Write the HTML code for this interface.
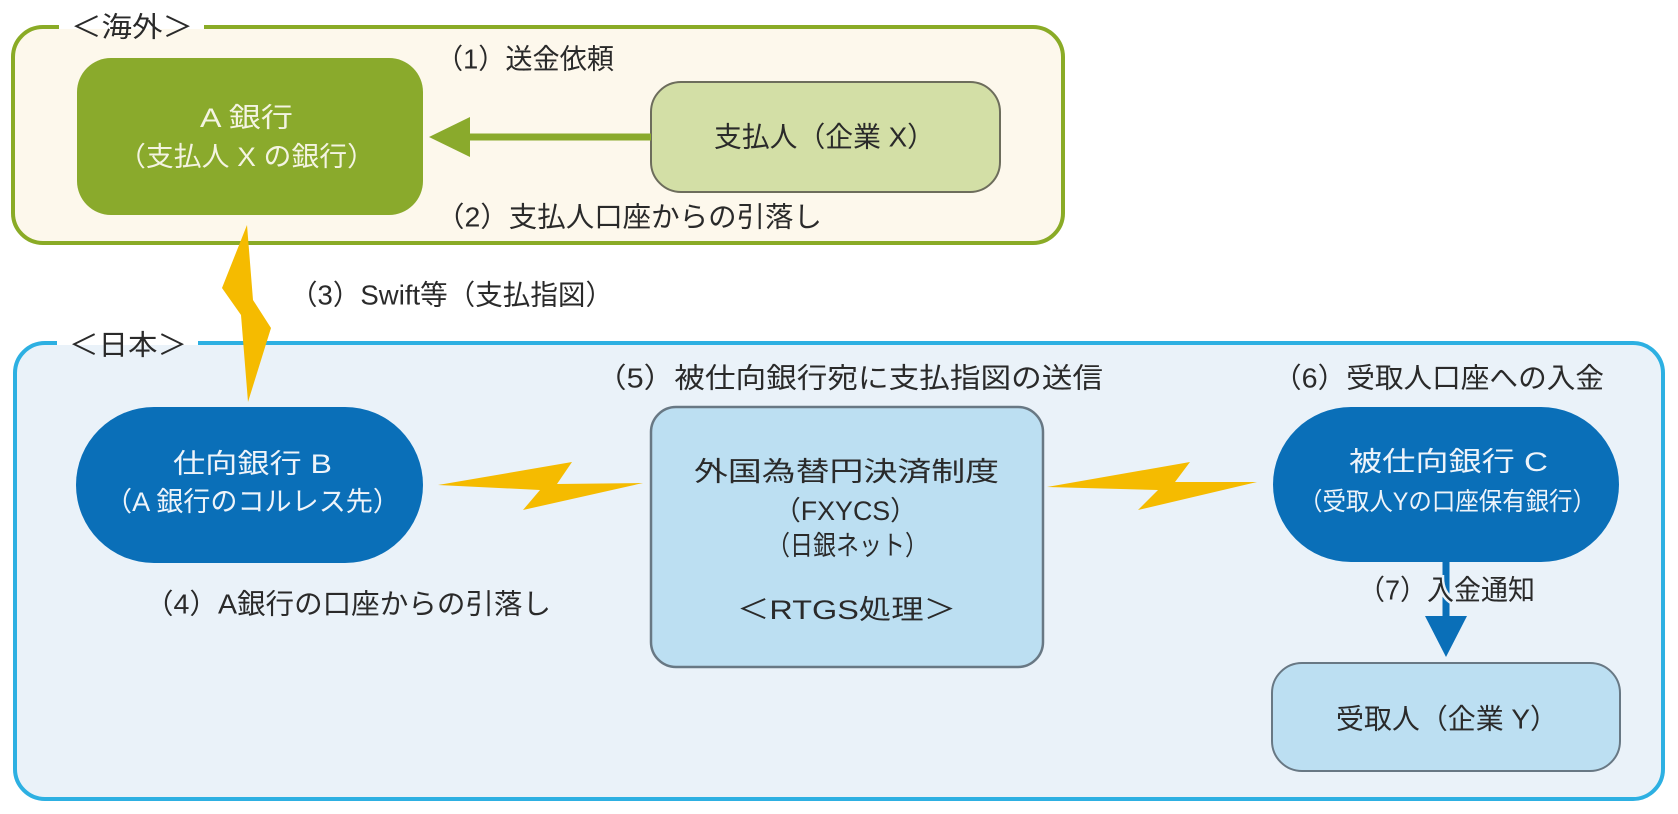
<!DOCTYPE html>
<html>
<head>
<meta charset="utf-8">
<style>
  html,body{margin:0;padding:0;background:#ffffff;}
  svg{display:block;}
  text{font-family:"Liberation Sans","Noto Sans CJK JP",sans-serif;}
</style>
</head>
<body>
<svg width="1678" height="814" viewBox="0 0 1678 814" xmlns="http://www.w3.org/2000/svg">
  <rect x="0" y="0" width="1678" height="814" fill="#ffffff"/>

  <!-- Overseas (green) container -->
  <rect x="13" y="27" width="1050" height="216" rx="30" ry="30" fill="#fdf8ec" stroke="#8aab26" stroke-width="4"/>
  <rect x="59" y="20" width="145" height="14" fill="#ffffff"/>
  <rect x="59" y="29" width="145" height="6" fill="#fdf8ec"/>
  <text x="71" y="27" font-size="28" fill="#2a2a2a" dominant-baseline="central" textLength="122" lengthAdjust="spacingAndGlyphs">＜海外＞</text>

  <!-- A bank -->
  <rect x="77" y="58" width="346" height="157" rx="34" ry="34" fill="#8aaa2c"/>
  <text x="200" y="118" font-size="27" fill="#f4f4e2" dominant-baseline="central" textLength="93" lengthAdjust="spacingAndGlyphs">A 銀行</text>
  <text x="118" y="157" font-size="27" fill="#f4f4e2" dominant-baseline="central" textLength="257" lengthAdjust="spacingAndGlyphs">（支払人 X の銀行）</text>

  <!-- Payer -->
  <rect x="651" y="82" width="349" height="110" rx="30" ry="30" fill="#d3dfa6" stroke="#6d6d5c" stroke-width="2"/>
  <text x="714" y="137" font-size="28" fill="#2a2a2a" dominant-baseline="central" textLength="221" lengthAdjust="spacingAndGlyphs">支払人（企業 X）</text>

  <!-- green arrow -->
  <line x1="651" y1="137" x2="466" y2="137" stroke="#8aaa2c" stroke-width="7"/>
  <polygon points="429,137 470,117 470,157" fill="#8aaa2c"/>

  <text x="436" y="59" font-size="28" fill="#2a2a2a" dominant-baseline="central" textLength="178" lengthAdjust="spacingAndGlyphs">（1）送金依頼</text>
  <text x="436" y="217" font-size="28" fill="#2a2a2a" dominant-baseline="central" textLength="386" lengthAdjust="spacingAndGlyphs">（2）支払人口座からの引落し</text>

  <!-- Japan (blue) container -->
  <rect x="15" y="343" width="1648" height="456" rx="30" ry="30" fill="#eaf2f9" stroke="#2db0e2" stroke-width="4"/>
  <rect x="57" y="336" width="141" height="12" fill="#ffffff"/>
  <rect x="57" y="345" width="141" height="6" fill="#eaf2f9"/>
  <text x="69" y="345" font-size="28" fill="#2a2a2a" dominant-baseline="central" textLength="118" lengthAdjust="spacingAndGlyphs">＜日本＞</text>

  <text x="290" y="295" font-size="28" fill="#2a2a2a" dominant-baseline="central" textLength="323" lengthAdjust="spacingAndGlyphs">（3）Swift等（支払指図）</text>

  <!-- Bank B -->
  <rect x="76" y="407" width="347" height="156" rx="78" ry="78" fill="#0a6fb8"/>
  <text x="173" y="464" font-size="27" fill="#eef4fa" dominant-baseline="central" textLength="159" lengthAdjust="spacingAndGlyphs">仕向銀行 B</text>
  <text x="105" y="502" font-size="27" fill="#eef4fa" dominant-baseline="central" textLength="295" lengthAdjust="spacingAndGlyphs">（A 銀行のコルレス先）</text>

  <text x="145" y="604" font-size="28" fill="#2a2a2a" dominant-baseline="central" textLength="406" lengthAdjust="spacingAndGlyphs">（4）A銀行の口座からの引落し</text>

  <!-- FXYCS -->
  <rect x="651" y="407" width="392" height="260" rx="25" ry="25" fill="#bcdff2" stroke="#687884" stroke-width="2.5"/>
  <text x="694" y="472" font-size="27" fill="#2a2a2a" dominant-baseline="central" textLength="305" lengthAdjust="spacingAndGlyphs">外国為替円決済制度</text>
  <text x="774" y="511" font-size="27" fill="#2a2a2a" dominant-baseline="central" textLength="143" lengthAdjust="spacingAndGlyphs">（FXYCS）</text>
  <text x="767" y="546" font-size="27" fill="#2a2a2a" dominant-baseline="central" textLength="161" lengthAdjust="spacingAndGlyphs">（日銀ネット）</text>
  <text x="737" y="610" font-size="27" fill="#2a2a2a" dominant-baseline="central" textLength="219" lengthAdjust="spacingAndGlyphs">＜RTGS処理＞</text>

  <text x="596" y="378" font-size="28" fill="#2a2a2a" dominant-baseline="central" textLength="507" lengthAdjust="spacingAndGlyphs">（5）被仕向銀行宛に支払指図の送信</text>
  <text x="1273" y="378" font-size="28" fill="#2a2a2a" dominant-baseline="central" textLength="331" lengthAdjust="spacingAndGlyphs">（6）受取人口座への入金</text>

  <!-- Bank C -->
  <rect x="1273" y="407" width="346" height="155" rx="78" ry="78" fill="#0a6fb8"/>
  <text x="1349" y="462" font-size="27" fill="#eef4fa" dominant-baseline="central" textLength="199" lengthAdjust="spacingAndGlyphs">被仕向銀行 C</text>
  <text x="1299" y="502" font-size="25" fill="#eef4fa" dominant-baseline="central" textLength="297" lengthAdjust="spacingAndGlyphs">（受取人Yの口座保有銀行）</text>

  <!-- arrow 7 -->
  <line x1="1446" y1="562" x2="1446" y2="620" stroke="#0a6fb8" stroke-width="7"/>
  <polygon points="1425,616 1467,616 1446,657" fill="#0a6fb8"/>
  <text x="1358" y="590" font-size="28" fill="#2a2a2a" stroke="#eaf2f9" stroke-width="5" paint-order="stroke" dominant-baseline="central" textLength="177" lengthAdjust="spacingAndGlyphs">（7）入金通知</text>

  <!-- Receiver -->
  <rect x="1272" y="663" width="348" height="108" rx="30" ry="30" fill="#bcdff2" stroke="#687884" stroke-width="2"/>
  <text x="1336" y="719" font-size="28" fill="#2a2a2a" dominant-baseline="central" textLength="222" lengthAdjust="spacingAndGlyphs">受取人（企業 Y）</text>

  <!-- Lightning bolts -->
  <polygon points="247,225 253,300 271,328 248,402 241,315 222,288" fill="#f5bb00"/>
  <polygon points="438,485 572,462 557,484 643,483 523,510 540,490" fill="#f5bb00"/>
  <polygon points="1047,487 1190,462 1175,482 1257,482 1138,510 1158,490" fill="#f5bb00"/>
</svg>
</body>
</html>
